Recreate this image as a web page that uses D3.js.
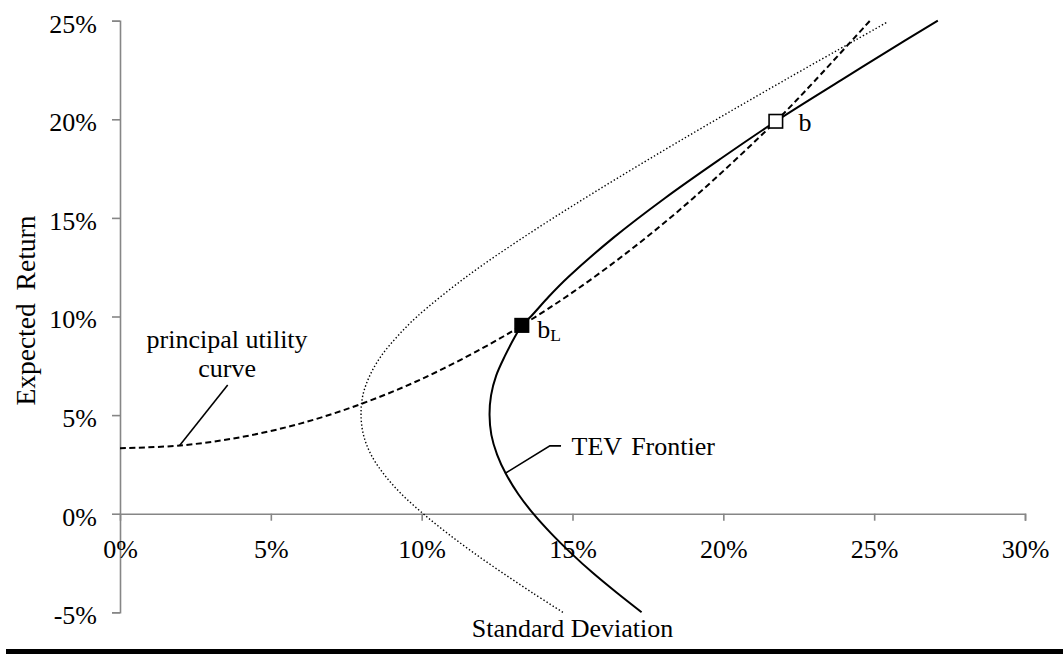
<!DOCTYPE html>
<html>
<head>
<meta charset="utf-8">
<script src="https://cdn.jsdelivr.net/npm/d3@7"></script>
<style>
  html, body { margin: 0; padding: 0; background: #fff; }
  svg { display: block; }
  text { font-family: "Liberation Serif", "Times New Roman", serif; fill: #000; }
</style>
</head>
<body>
<svg id="chart" width="1063" height="656"></svg>
<script>
// Axis ticks (percent)
const xTickValues = [0, 5, 10, 15, 20, 25, 30];
const yTickValues = [-5, 0, 5, 10, 15, 20, 25];

// TEV frontier (solid): standard deviation vs expected return, in %
const tevSigma  = [17.29, 16.46, 15.67, 14.95, 14.29, 13.70, 13.20, 12.80, 12.50, 12.31, 12.25, 12.30, 12.47, 12.76, 13.10, 13.32, 13.62, 14.21, 14.86, 16.36, 18.06, 19.91, 21.74, 23.92, 26.03, 27.11];
const tevReturn = [-5.00, -4.00, -3.00, -2.00, -1.00,  0.00,  1.00,  2.00,  3.00,  4.00,  5.00,  6.00,  7.00,  8.00,  9.00,  9.55, 10.00, 11.00, 12.00, 14.00, 16.00, 18.00, 19.90, 22.00, 24.00, 25.00];

// Mean-variance frontier (dotted)
const mvSigma  = [14.68, 13.66, 12.68, 11.74, 10.86, 10.05,  9.33,  8.75,  8.32,  8.07,  7.99,  8.05,  8.28,  8.66,  9.20,  9.85, 11.47, 13.36, 15.41, 17.56, 19.78, 22.05, 24.36, 25.46];
const mvReturn = [-5.00, -4.00, -3.00, -2.00, -1.00,  0.00,  1.00,  2.00,  3.00,  4.00,  5.00,  6.00,  7.00,  8.00,  9.00, 10.00, 12.00, 14.00, 16.00, 18.00, 20.00, 22.00, 24.00, 24.95];

// Principal utility curve (dashed)
const puSigma  = [0.00, 2.00, 4.00, 6.00, 8.00, 10.00, 12.00, 13.32, 15.00, 17.00, 19.00, 21.74, 23.00, 24.92];
const puReturn = [3.32, 3.46, 3.88, 4.58, 5.57,  6.83,  8.38,  9.55, 11.22, 13.47, 16.00, 19.90, 21.90, 25.10];

// Benchmark portfolios
const pointNames  = ["b", "bL"];
const pointSigma  = [21.74, 13.32];
const pointReturn = [19.90, 9.55];

const svg = d3.select("#chart");
const x = d3.scaleLinear().domain([0, 30]).range([120, 1025]);
const y = d3.scaleLinear().domain([-5, 25]).range([612.3, 20.7]);
const pct = d => d + "%";
const axisColor = "#868686";

// Y axis
const yAxis = svg.append("g")
  .attr("transform", `translate(${x(0)},0)`)
  .call(d3.axisLeft(y).tickValues(yTickValues).tickFormat(pct).tickSize(8).tickSizeOuter(8).tickPadding(15));
yAxis.selectAll("text").attr("dy", "0.44em").style("font-size", "26px");

// X axis, crossing at zero return
const xAxis = svg.append("g")
  .attr("transform", `translate(0,${y(0)})`)
  .call(d3.axisBottom(x).tickValues(xTickValues).tickFormat(pct).tickSize(7).tickSizeOuter(7).tickPadding(0));
xAxis.selectAll("text").attr("y", 44).attr("dy", 0).style("font-size", "26px");
xAxis.selectAll(".tick").filter(d => d === 0).select("line").remove();

svg.selectAll(".domain, .tick line").attr("stroke", axisColor).attr("stroke-width", 1.6);

// Axis titles
svg.append("text")
  .attr("x", x(15)).attr("y", 637)
  .attr("text-anchor", "middle")
  .style("font-size", "26px")
  .text("Standard Deviation");

svg.append("text")
  .attr("transform", `translate(35,${y(10.3)}) rotate(-90)`)
  .attr("text-anchor", "middle")
  .style("font-size", "27.5px")
  .style("word-spacing", "6px")
  .text("Expected Return");

// Curves
const line = d3.line().x(d => x(d[0])).y(d => y(d[1])).curve(d3.curveCatmullRom.alpha(0.5));
const zipPts = (a, b) => a.map((v, i) => [v, b[i]]);

svg.append("path").datum(zipPts(mvSigma, mvReturn))
  .attr("d", line).attr("fill", "none").attr("stroke", "#000")
  .attr("stroke-width", 1.4).attr("stroke-dasharray", "1.4,2.2");

svg.append("path").datum(zipPts(puSigma, puReturn))
  .attr("d", line).attr("fill", "none").attr("stroke", "#000")
  .attr("stroke-width", 2).attr("stroke-dasharray", "6,3.5");

svg.append("path").datum(zipPts(tevSigma, tevReturn))
  .attr("d", line).attr("fill", "none").attr("stroke", "#000")
  .attr("stroke-width", 2);

// Leader lines for the curve labels
const leader = d3.line().x(d => x(d[0])).y(d => y(d[1]));
const puLeader  = [[1.97, 3.45], [3.57, 6.53]];
const tevLeader = [[12.76, 2.04], [14.25, 3.44], [14.62, 3.44]];
[puLeader, tevLeader].forEach(pts => {
  svg.append("path").attr("d", leader(pts)).attr("fill", "none")
    .attr("stroke", "#000").attr("stroke-width", 1.6);
});

svg.append("text")
  .attr("x", x(3.55)).attr("y", y(8.39))
  .attr("text-anchor", "middle").style("font-size", "26px")
  .text("principal utility");
svg.append("text")
  .attr("x", x(3.55)).attr("y", y(8.39) + 28.4)
  .attr("text-anchor", "middle").style("font-size", "26px")
  .text("curve");

svg.append("text")
  .attr("x", x(14.97)).attr("y", y(2.98))
  .style("font-size", "26px").style("word-spacing", "3px")
  .text("TEV Frontier");

// Benchmark markers
const sq = 13.5;
pointNames.forEach((name, i) => {
  const cx = x(pointSigma[i]), cy = y(pointReturn[i]);
  svg.append("rect")
    .attr("x", cx - sq / 2).attr("y", cy - sq / 2)
    .attr("width", sq).attr("height", sq)
    .attr("fill", name === "b" ? "#fff" : "#000")
    .attr("stroke", "#000").attr("stroke-width", 1.6);
  if (name === "b") {
    svg.append("text").attr("x", cx + 22.6).attr("y", cy + 9.4)
      .style("font-size", "26px").text("b");
  } else {
    const t = svg.append("text").attr("x", cx + 15.5).attr("y", cy + 12.6)
      .style("font-size", "26px");
    t.append("tspan").text("b");
    t.append("tspan").attr("dy", 3.4).style("font-size", "17.5px").text("L");
  }
});

// Rule beneath the chart
svg.append("rect").attr("x", 6).attr("y", 649).attr("width", 1057).attr("height", 5).attr("fill", "#000");
</script>
</body>
</html>
